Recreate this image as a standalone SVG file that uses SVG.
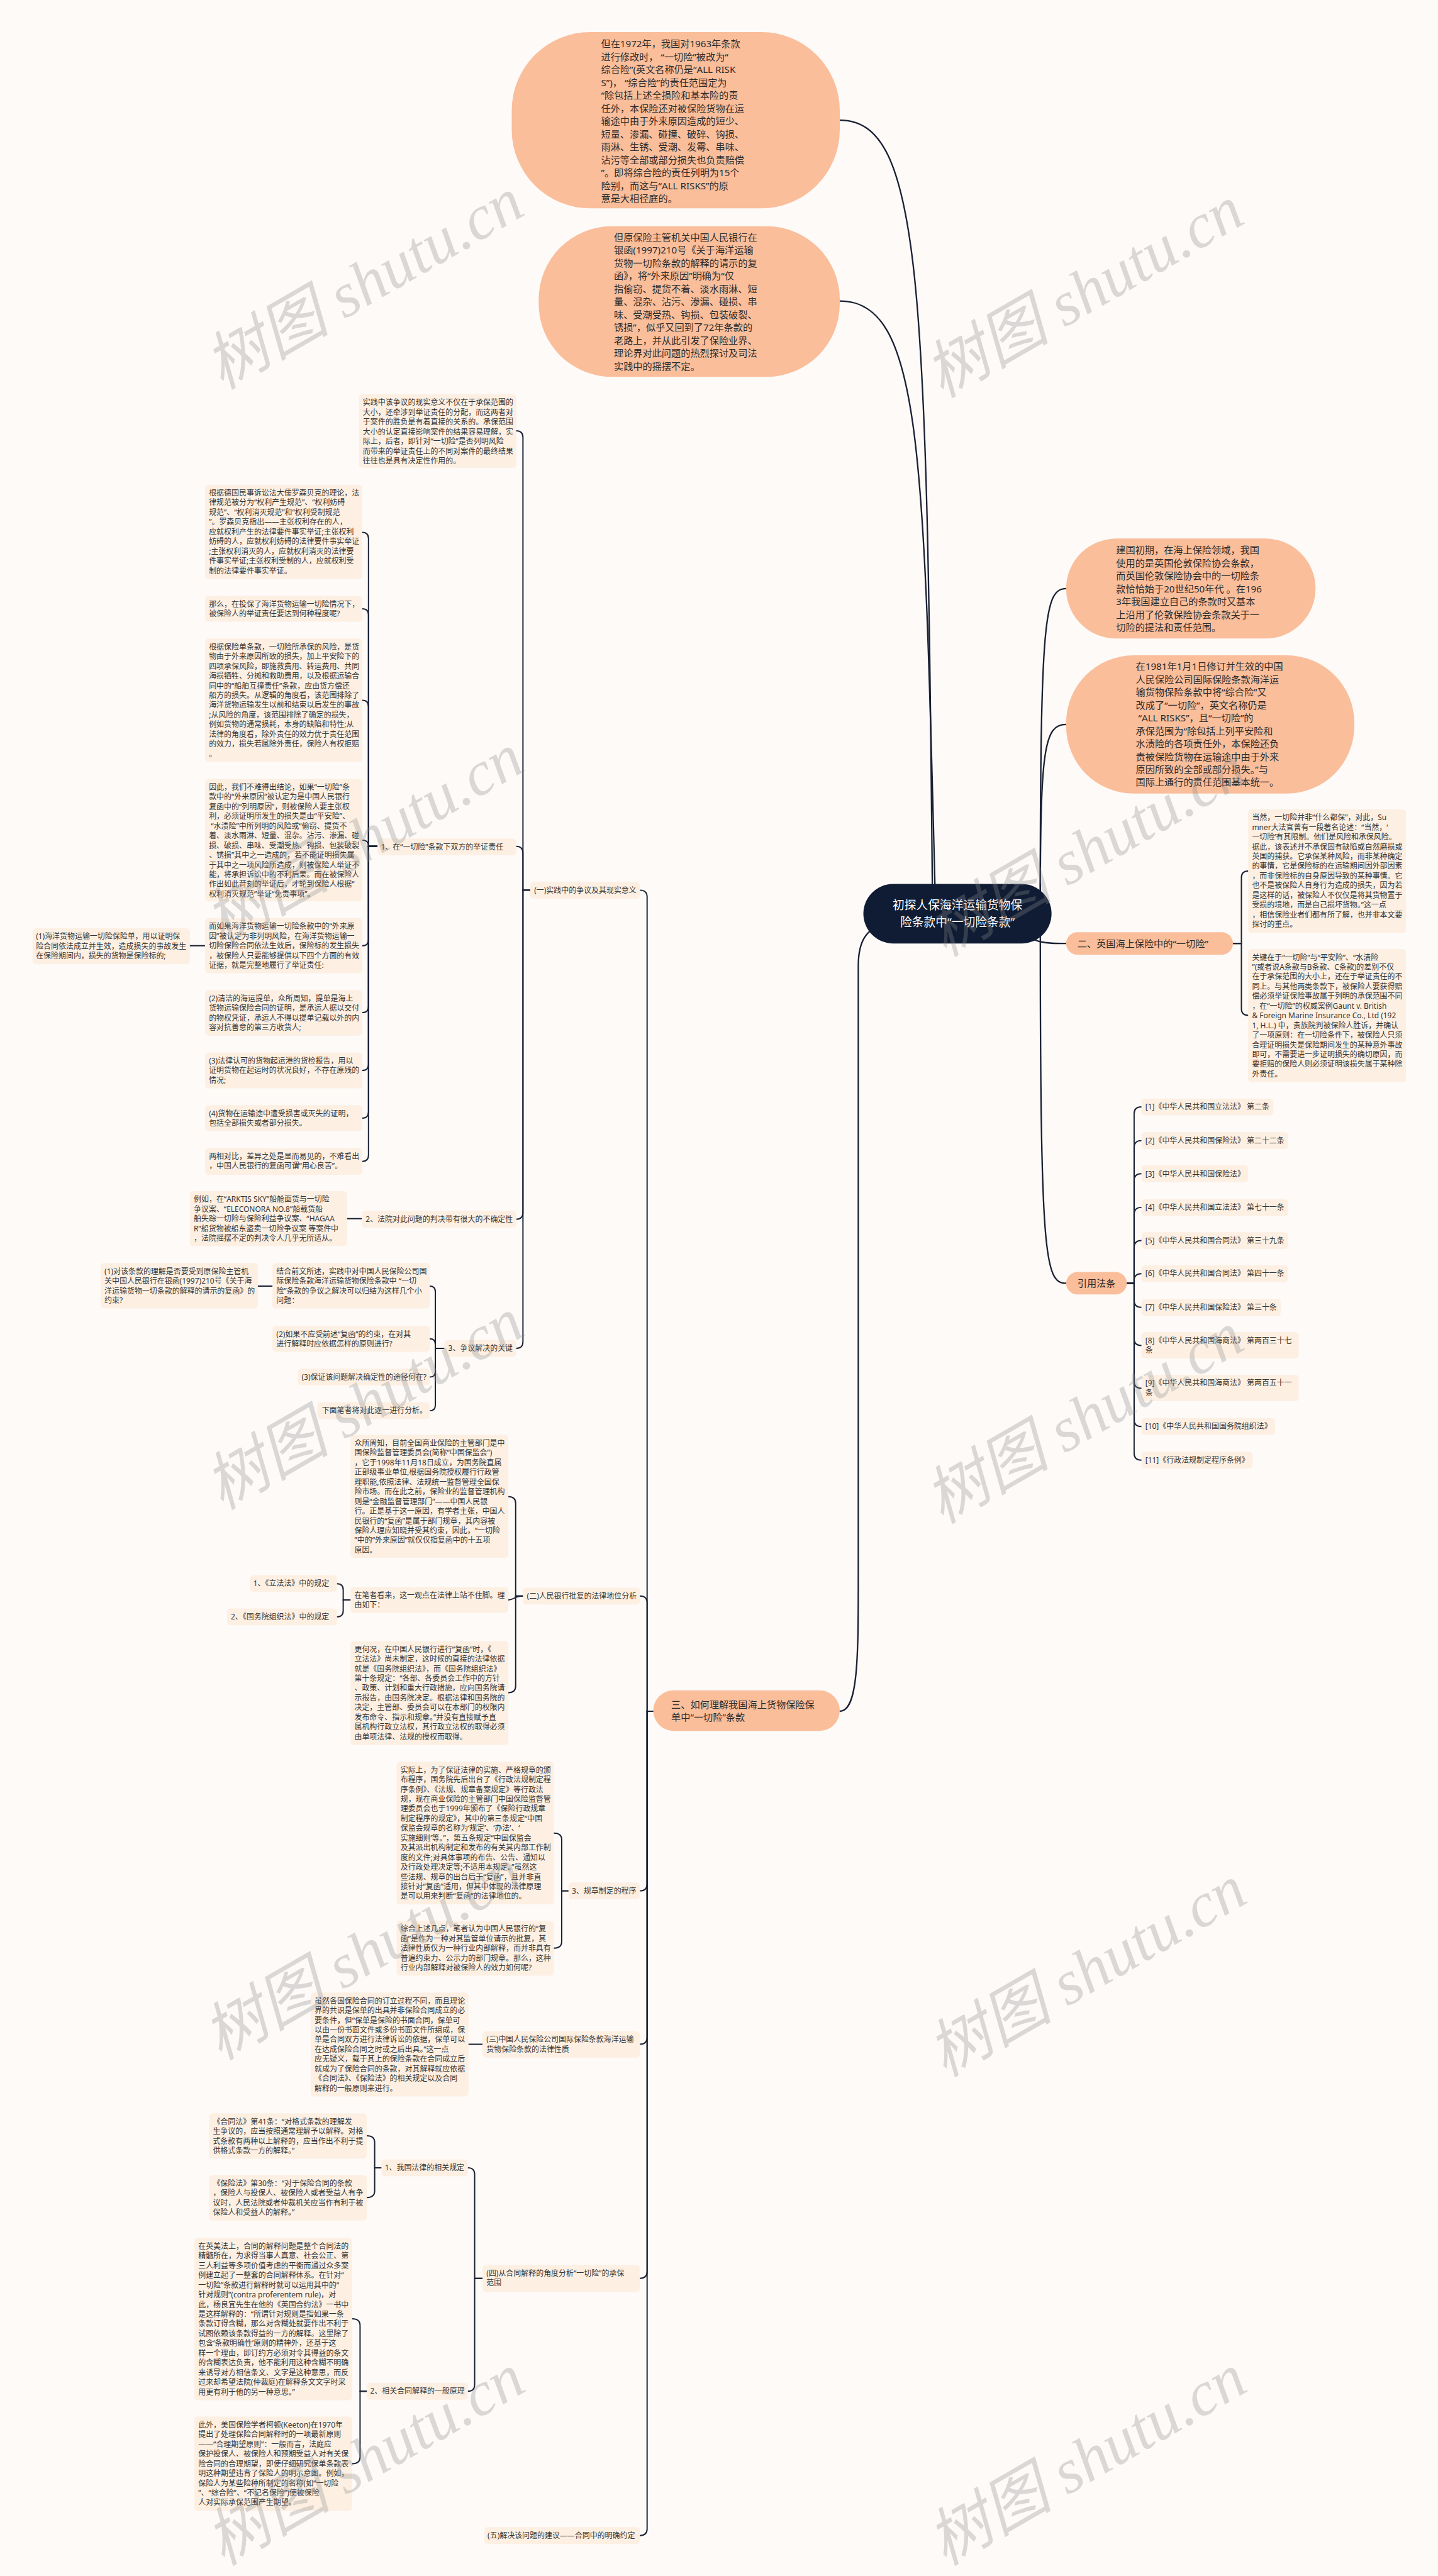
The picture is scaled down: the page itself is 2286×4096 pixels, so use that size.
<svg xmlns="http://www.w3.org/2000/svg" width="2286" height="4096" viewBox="0 0 2286 4096">
<style>
.t{font-family:"Noto Sans","Noto Sans CJK SC",sans-serif;fill:#333}
.s{font-size:13.4px}
.m{font-size:17px;fill:#2b2b2b}
.r{font-size:21px;fill:#ffffff;text-anchor:middle}
.bx{fill:#fdf0e3}
.bg{fill:#fabe9b}
.ln{fill:none;stroke:#1a2133;stroke-width:2.2;stroke-linecap:round}
.lr{stroke-width:2.6}
.wm{font-family:"Liberation Serif","Noto Sans CJK SC",serif;font-style:italic;font-size:112px;fill:#8c8c8c;opacity:.3;text-anchor:middle;dominant-baseline:central}
</style>
<rect x="0" y="0" width="2286" height="4096" fill="#fdfaf8"/>
<g transform="scale(0.89297)">
<g id="connectors">
<path class="ln lr" d="M1495 214 C1640 214 1650 500 1660 1600"/>
<path class="ln lr" d="M1495 536 C1640 536 1645 800 1665 1600"/>
<path class="ln lr" d="M1495 3047 C1528 3047 1528 2950 1528 2800 L1528 1720 C1528 1670 1545 1650 1590 1640"/>
<path class="ln lr" d="M1852 1600 C1852 1100 1860 1048 1898 1048"/>
<path class="ln lr" d="M1852 1600 C1852 1330 1860 1290 1898 1290"/>
<path class="ln lr" d="M1800 1650 C1840 1680 1860 1680 1898 1680"/>
<path class="ln lr" d="M1852 1650 C1852 2240 1860 2285 1898 2285"/>
<path class="ln" d="M1163 3047 H1152 V1597 Q1152 1585 1139 1585"/>
<path class="ln" d="M1163 3047 H1152 V2854 Q1152 2842 1139 2842"/>
<path class="ln" d="M1163 3047 H1152 V3355 Q1152 3367 1139 3367"/>
<path class="ln" d="M1163 3047 H1152 V3628 Q1152 3640 1139 3640"/>
<path class="ln" d="M1163 3047 H1152 V4045 Q1152 4057 1139 4057"/>
<path class="ln" d="M1163 3047 H1152 V4503 Q1152 4515 1139 4515"/>
<path class="ln" d="M944 1585 H931 V779 Q931 767 919 767"/>
<path class="ln" d="M944 1585 H931 V1519 Q931 1507 919 1507"/>
<path class="ln" d="M944 1585 H931 V2159 Q931 2171 919 2171"/>
<path class="ln" d="M944 1585 H931 V2389 Q931 2401 919 2401"/>
<path class="ln" d="M672 1507 H656 V959 Q656 948 645 948"/>
<path class="ln" d="M672 1507 H656 V1095 Q656 1084 645 1084"/>
<path class="ln" d="M672 1507 H656 V1258 Q656 1247 645 1247"/>
<path class="ln" d="M672 1507 H656 Q656 1496 645 1496"/>
<path class="ln" d="M672 1507 H656 V1673 Q656 1684 645 1684"/>
<path class="ln" d="M672 1507 H656 V1792 Q656 1803 645 1803"/>
<path class="ln" d="M672 1507 H656 V1895 Q656 1906 645 1906"/>
<path class="ln" d="M672 1507 H656 V1980 Q656 1991 645 1991"/>
<path class="ln" d="M672 1507 H656 V2057 Q656 2068 645 2068"/>
<path class="ln" d="M338 1684 H365"/>
<path class="ln" d="M618 2170 H644"/>
<path class="ln" d="M459 2290 H485"/>
<path class="ln" d="M791 2401 H775 V2300 Q775 2290 765 2290"/>
<path class="ln" d="M791 2401 H775 V2394 Q775 2384 765 2384"/>
<path class="ln" d="M791 2401 H775 V2442 Q775 2452 765 2452"/>
<path class="ln" d="M791 2401 H775 V2502 Q775 2512 765 2512"/>
<path class="ln" d="M931 2842 H918 V2677 Q918 2665 905 2665"/>
<path class="ln" d="M931 2842 C915 2842 915 2849 905 2849"/>
<path class="ln" d="M931 2842 H918 V3002 Q918 3014 905 3014"/>
<path class="ln" d="M624 2849 H611 V2831 Q611 2820 600 2820"/>
<path class="ln" d="M624 2849 H611 V2868 Q611 2879 600 2879"/>
<path class="ln" d="M1012 3367 H1000 V3276 Q1000 3264 986 3264"/>
<path class="ln" d="M1012 3367 H1000 V3457 Q1000 3469 986 3469"/>
<path class="ln" d="M834 3640 H859"/>
<path class="ln" d="M859 4057 H845 V3872 Q845 3860 833 3860"/>
<path class="ln" d="M859 4057 H845 V4246 Q845 4258 833 4258"/>
<path class="ln" d="M679 3860 H667 V3815 Q667 3803 653 3803"/>
<path class="ln" d="M679 3860 H667 V3901 Q667 3913 653 3913"/>
<path class="ln" d="M653 4258 H641 V4141 Q641 4129 627 4129"/>
<path class="ln" d="M653 4258 H641 V4375 Q641 4387 627 4387"/>
<path class="ln" d="M2195 1680 H2210 V1563 Q2210 1551 2222 1551"/>
<path class="ln" d="M2195 1680 H2210 V1796 Q2210 1808 2222 1808"/>
<path class="ln" d="M2006 2285 H2019 V1983 Q2019 1971 2032 1971"/>
<path class="ln" d="M2006 2285 H2019 V2043 Q2019 2031 2032 2031"/>
<path class="ln" d="M2006 2285 H2019 V2102 Q2019 2090 2032 2090"/>
<path class="ln" d="M2006 2285 H2019 V2162 Q2019 2150 2032 2150"/>
<path class="ln" d="M2006 2285 H2019 V2221 Q2019 2209 2032 2209"/>
<path class="ln" d="M2006 2285 H2019 V2280 Q2019 2268 2032 2268"/>
<path class="ln" d="M2006 2285 H2019 V2316 Q2019 2328 2032 2328"/>
<path class="ln" d="M2006 2285 H2019 V2384 Q2019 2396 2032 2396"/>
<path class="ln" d="M2006 2285 H2019 V2460 Q2019 2472 2032 2472"/>
<path class="ln" d="M2006 2285 H2019 V2528 Q2019 2540 2032 2540"/>
<path class="ln" d="M2006 2285 H2019 V2588 Q2019 2600 2032 2600"/>
</g>

<g id="root">
<rect x="1537" y="1574" width="335" height="106" rx="53" fill="#0f1c33"/>
<text class="t r" x="1704.5" y="1619">初探人保海洋运输货物保</text>
<text class="t r" x="1704.5" y="1649">险条款中“一切险条款”</text>
</g>

<g id="bubble1">
<rect class="bg" x="911" y="57" width="584" height="314" rx="140"/>
<text class="t m" x="1070" y="84.1"><tspan x="1070">但在1972年，我国对1963年条款</tspan><tspan x="1070" dy="22.96">进行修改时，  “一切险”被改为“</tspan><tspan x="1070" dy="22.96">综合险”(英文名称仍是“ALL RISK</tspan><tspan x="1070" dy="22.96">S”)，  “综合险”的责任范围定为</tspan><tspan x="1070" dy="22.96">“除包括上述全损险和基本险的责</tspan><tspan x="1070" dy="22.96">任外，本保险还对被保险货物在运</tspan><tspan x="1070" dy="22.96">输途中由于外来原因造成的短少、</tspan><tspan x="1070" dy="22.96">短量、渗漏、碰撞、破碎、钩损、</tspan><tspan x="1070" dy="22.96">雨淋、生锈、受潮、发霉、串味、</tspan><tspan x="1070" dy="22.96">沾污等全部或部分损失也负责赔偿</tspan><tspan x="1070" dy="22.96">”。即将综合险的责任列明为15个</tspan><tspan x="1070" dy="22.96">险别，而这与“ALL RISKS”的原</tspan><tspan x="1070" dy="22.96">意是大相径庭的。</tspan></text>
</g>

<g id="bubble2">
<rect class="bg" x="959" y="403" width="536" height="268" rx="130"/>
<text class="t m" x="1093" y="428.5"><tspan x="1093">但原保险主管机关中国人民银行在</tspan><tspan x="1093" dy="22.96">银函(1997)210号《关于海洋运输</tspan><tspan x="1093" dy="22.96">货物一切险条款的解释的请示的复</tspan><tspan x="1093" dy="22.96">函》，将“外来原因”明确为“仅</tspan><tspan x="1093" dy="22.96">指偷窃、提货不着、淡水雨淋、短</tspan><tspan x="1093" dy="22.96">量、混杂、沾污、渗漏、碰损、串</tspan><tspan x="1093" dy="22.96">味、受潮受热、钩损、包装破裂、</tspan><tspan x="1093" dy="22.96">锈损”，似乎又回到了72年条款的</tspan><tspan x="1093" dy="22.96">老路上，并从此引发了保险业界、</tspan><tspan x="1093" dy="22.96">理论界对此问题的热烈探讨及司法</tspan><tspan x="1093" dy="22.96">实践中的摇摆不定。</tspan></text>
</g>

<g id="bubble3">
<rect class="bg" x="1898" y="959" width="444" height="178" rx="89"/>
<text class="t m" x="1987" y="986"><tspan x="1987">建国初期，在海上保险领域，我国</tspan><tspan x="1987" dy="22.95">使用的是英国伦敦保险协会条款，</tspan><tspan x="1987" dy="22.95">而英国伦敦保险协会中的一切险条</tspan><tspan x="1987" dy="22.95">款恰恰始于20世纪50年代 。在196</tspan><tspan x="1987" dy="22.95">3年我国建立自己的条款时又基本</tspan><tspan x="1987" dy="22.95">上沿用了伦敦保险协会条款关于一</tspan><tspan x="1987" dy="22.95">切险的提法和责任范围。</tspan></text>
</g>

<g id="bubble4">
<rect class="bg" x="1898" y="1167" width="513" height="246" rx="120"/>
<text class="t m" x="2022" y="1192.7"><tspan x="2022">在1981年1月1日修订并生效的中国</tspan><tspan x="2022" dy="22.95">人民保险公司国际保险条款海洋运</tspan><tspan x="2022" dy="22.95">输货物保险条款中将“综合险”又</tspan><tspan x="2022" dy="22.95">改成了“一切险”，英文名称仍是</tspan><tspan x="2022" dy="22.95"> “ALL RISKS”，且“一切险”的</tspan><tspan x="2022" dy="22.95">承保范围为“除包括上列平安险和</tspan><tspan x="2022" dy="22.95">水渍险的各项责任外，本保险还负</tspan><tspan x="2022" dy="22.95">责被保险货物在运输途中由于外来</tspan><tspan x="2022" dy="22.95">原因所致的全部或部分损失。”与</tspan><tspan x="2022" dy="22.95">国际上通行的责任范围基本统一。</tspan></text>
</g>

<g id="n-er">
<rect class="bg" x="1898" y="1660" width="297" height="40" rx="20"/>
<text class="t m" x="1918" y="1686">二、英国海上保险中的“一切险”</text>
</g>
<g id="n-er-1">
<rect class="bx" x="2222" y="1441" width="281" height="220" rx="6"/>
<text class="t s" x="2229" y="1460.5"><tspan x="2229">当然，一切险并非“什么都保”，对此，Su</tspan><tspan x="2229" dy="17.3">mner大法官曾有一段著名论述：“当然，‘</tspan><tspan x="2229" dy="17.3">一切险’有其限制。他们是风险和承保风险。</tspan><tspan x="2229" dy="17.3">据此，该表述并不承保固有缺陷或自然磨损或</tspan><tspan x="2229" dy="17.3">英国的捕获。它承保某种风险，而非某种确定</tspan><tspan x="2229" dy="17.3">的事情，它是保险标的在运输期间因外部因素</tspan><tspan x="2229" dy="17.3">，而非保险标的自身原因导致的某种事情。它</tspan><tspan x="2229" dy="17.3">也不是被保险人自身行为造成的损失，因为若</tspan><tspan x="2229" dy="17.3">是这样的话，被保险人不仅仅是将其货物置于</tspan><tspan x="2229" dy="17.3">受损的境地，而是自己损坏货物。”这一点</tspan><tspan x="2229" dy="17.3">，相信保险业者们都有所了解，也并非本文要</tspan><tspan x="2229" dy="17.3">探讨的重点。</tspan></text>
</g>
<g id="n-er-2">
<rect class="bx" x="2222" y="1690" width="281" height="237" rx="6"/>
<text class="t s" x="2229" y="1709.5"><tspan x="2229">关键在于“一切险”与“平安险”、“水渍险</tspan><tspan x="2229" dy="17.3">”(或者说A条款与B条款、C条款)的差别不仅</tspan><tspan x="2229" dy="17.3">在于承保范围的大小上，还在于举证责任的不</tspan><tspan x="2229" dy="17.3">同上。与其他两类条款下，被保险人要获得赔</tspan><tspan x="2229" dy="17.3">偿必须举证保险事故属于列明的承保范围不同</tspan><tspan x="2229" dy="17.3">，在“一切险”的权威案例Gaunt v. British</tspan><tspan x="2229" dy="17.3">&amp; Foreign Marine Insurance Co., Ltd (192</tspan><tspan x="2229" dy="17.3">1, H.L.) 中，贵族院判被保险人胜诉，并确认</tspan><tspan x="2229" dy="17.3">了一项原则：在一切险条件下，被保险人只须</tspan><tspan x="2229" dy="17.3">合理证明损失是保险期间发生的某种意外事故</tspan><tspan x="2229" dy="17.3">即可，不需要进一步证明损失的确切原因，而</tspan><tspan x="2229" dy="17.3">要拒赔的保险人则必须证明该损失属于某种除</tspan><tspan x="2229" dy="17.3">外责任。</tspan></text>
</g>

<g id="n-law">
<rect class="bg" x="1898" y="2265" width="108" height="40" rx="20"/>
<text class="t m" x="1952" y="2291" text-anchor="middle">引用法条</text>
</g>
<g id="law-1"><rect class="bx" x="2032" y="1956" width="235" height="30" rx="6"/><text class="t s" x="2039" y="1975.7">[1]《中华人民共和国立法法》 第二条</text></g>
<g id="law-2"><rect class="bx" x="2032" y="2016" width="261" height="30" rx="6"/><text class="t s" x="2039" y="2035.7">[2]《中华人民共和国保险法》 第二十二条</text></g>
<g id="law-3"><rect class="bx" x="2032" y="2075" width="190" height="30" rx="6"/><text class="t s" x="2039" y="2094.7">[3]《中华人民共和国保险法》</text></g>
<g id="law-4"><rect class="bx" x="2032" y="2135" width="261" height="30" rx="6"/><text class="t s" x="2039" y="2154.7">[4]《中华人民共和国立法法》 第七十一条</text></g>
<g id="law-5"><rect class="bx" x="2032" y="2194" width="261" height="30" rx="6"/><text class="t s" x="2039" y="2213.7">[5]《中华人民共和国合同法》 第三十九条</text></g>
<g id="law-6"><rect class="bx" x="2032" y="2253" width="261" height="30" rx="6"/><text class="t s" x="2039" y="2272.7">[6]《中华人民共和国合同法》 第四十一条</text></g>
<g id="law-7"><rect class="bx" x="2032" y="2313" width="248" height="30" rx="6"/><text class="t s" x="2039" y="2332.7">[7]《中华人民共和国保险法》 第三十条</text></g>
<g id="law-8"><rect class="bx" x="2032" y="2372" width="280" height="47" rx="6"/><text class="t s" x="2039" y="2391.5"><tspan x="2039">[8]《中华人民共和国海商法》 第两百三十七</tspan><tspan x="2039" dy="17.3">条</tspan></text></g>
<g id="law-9"><rect class="bx" x="2032" y="2448" width="280" height="47" rx="6"/><text class="t s" x="2039" y="2467.5"><tspan x="2039">[9]《中华人民共和国海商法》 第两百五十一</tspan><tspan x="2039" dy="17.3">条</tspan></text></g>
<g id="law-10"><rect class="bx" x="2032" y="2525" width="238" height="30" rx="6"/><text class="t s" x="2039" y="2544.7">[10]《中华人民共和国国务院组织法》</text></g>
<g id="law-11"><rect class="bx" x="2032" y="2585" width="198" height="30" rx="6"/><text class="t s" x="2039" y="2604.7">[11]《行政法规制定程序条例》</text></g>

<g id="n-san">
<rect class="bg" x="1163" y="3010" width="332" height="72" rx="36"/>
<text class="t m" x="1195" y="3041"><tspan x="1195">三、如何理解我国海上货物保险保</tspan><tspan x="1195" dy="23">单中“一切险”条款</tspan></text>
</g>

<g id="n-1">
<rect class="bx" x="944" y="1570" width="195" height="30" rx="6"/>
<text class="t s" x="951" y="1589.7">(一)实践中的争议及其现实意义</text>
</g>
<g id="n-1-a">
<rect class="bx" x="639" y="702" width="280" height="131" rx="6"/>
<text class="t s" x="646" y="721.5"><tspan x="646">实践中该争议的现实意义不仅在于承保范围的</tspan><tspan x="646" dy="17.3">大小，还牵涉到举证责任的分配，而这两者对</tspan><tspan x="646" dy="17.3">于案件的胜负是有着直接的关系的。承保范围</tspan><tspan x="646" dy="17.3">大小的认定直接影响案件的结果容易理解，实</tspan><tspan x="646" dy="17.3">际上，后者，即针对“一切险”是否列明风险</tspan><tspan x="646" dy="17.3">而带来的举证责任上的不同对案件的最终结果</tspan><tspan x="646" dy="17.3">往往也是具有决定性作用的。</tspan></text>
</g>
<g id="n-1-1">
<rect class="bx" x="672" y="1493" width="247" height="30" rx="6"/>
<text class="t s" x="678" y="1512.7">1、在“一切险”条款下双方的举证责任</text>
</g>
<g id="n-1-1-a">
<rect class="bx" x="365" y="863" width="280" height="168" rx="6"/>
<text class="t s" x="372" y="882.5"><tspan x="372">根据德国民事诉讼法大儒罗森贝克的理论，法</tspan><tspan x="372" dy="17.3">律规范被分为“权利产生规范”、“权利妨碍</tspan><tspan x="372" dy="17.3">规范”、“权利消灭规范”和“权利受制规范</tspan><tspan x="372" dy="17.3">”。罗森贝克指出——主张权利存在的人，</tspan><tspan x="372" dy="17.3">应就权利产生的法律要件事实举证;主张权利</tspan><tspan x="372" dy="17.3">妨碍的人，应就权利妨碍的法律要件事实举证</tspan><tspan x="372" dy="17.3">;主张权利消灭的人，应就权利消灭的法律要</tspan><tspan x="372" dy="17.3">件事实举证;主张权利受制的人，应就权利受</tspan><tspan x="372" dy="17.3">制的法律要件事实举证。</tspan></text>
</g>
<g id="n-1-1-b">
<rect class="bx" x="365" y="1061" width="280" height="46" rx="6"/>
<text class="t s" x="372" y="1080.5"><tspan x="372">那么，在投保了海洋货物运输一切险情况下，</tspan><tspan x="372" dy="17.3">被保险人的举证责任要达到何种程度呢?</tspan></text>
</g>
<g id="n-1-1-c">
<rect class="bx" x="365" y="1137" width="280" height="220" rx="6"/>
<text class="t s" x="372" y="1156.5"><tspan x="372">根据保险单条款，一切险所承保的风险，是货</tspan><tspan x="372" dy="17.3">物由于外来原因所致的损失，加上平安险下的</tspan><tspan x="372" dy="17.3">四项承保风险，即施救费用、转运费用、共同</tspan><tspan x="372" dy="17.3">海损牺牲、分摊和救助费用，以及根据运输合</tspan><tspan x="372" dy="17.3">同中的“船舶互撞责任”条款，应由货方偿还</tspan><tspan x="372" dy="17.3">船方的损失。从逻辑的角度看，该范围排除了</tspan><tspan x="372" dy="17.3">海洋货物运输发生以前和结束以后发生的事故</tspan><tspan x="372" dy="17.3">;从风险的角度，该范围排除了确定的损失，</tspan><tspan x="372" dy="17.3">例如货物的通常损耗，本身的缺陷和特性;从</tspan><tspan x="372" dy="17.3">法律的角度看，除外责任的效力优于责任范围</tspan><tspan x="372" dy="17.3">的效力，损失若属除外责任，保险人有权拒赔</tspan><tspan x="372" dy="17.3">。</tspan></text>
</g>
<g id="n-1-1-d">
<rect class="bx" x="365" y="1387" width="280" height="218" rx="6"/>
<text class="t s" x="372" y="1406.5"><tspan x="372">因此，我们不难得出结论，如果“一切险”条</tspan><tspan x="372" dy="17.3">款中的“外来原因”被认定为是中国人民银行</tspan><tspan x="372" dy="17.3">复函中的“列明原因”，则被保险人要主张权</tspan><tspan x="372" dy="17.3">利，必须证明所发生的损失是由“平安险”、</tspan><tspan x="372" dy="17.3"> “水渍险”中所列明的风险或“偷窃、提货不</tspan><tspan x="372" dy="17.3">着、淡水雨淋、短量、混杂。沾污、渗漏、碰</tspan><tspan x="372" dy="17.3">损、破损、串味、受潮受热、钩损、包装破裂</tspan><tspan x="372" dy="17.3">、锈损”其中之一造成的，若不能证明损失属</tspan><tspan x="372" dy="17.3">于其中之一项风险所造成，则被保险人举证不</tspan><tspan x="372" dy="17.3">能，将承担诉讼中的不利后果。而在被保险人</tspan><tspan x="372" dy="17.3">作出如此苛刻的举证后，才轮到保险人根据“</tspan><tspan x="372" dy="17.3">权利消灭规范”举证“免责事项”。</tspan></text>
</g>
<g id="n-1-1-e">
<rect class="bx" x="365" y="1635" width="280" height="98" rx="6"/>
<text class="t s" x="372" y="1654.5"><tspan x="372">而如果海洋货物运输一切险条款中的“外来原</tspan><tspan x="372" dy="17.3">因”被认定为非列明风险，在海洋货物运输一</tspan><tspan x="372" dy="17.3">切险保险合同依法生效后，保险标的发生损失</tspan><tspan x="372" dy="17.3">，被保险人只要能够提供以下四个方面的有效</tspan><tspan x="372" dy="17.3">证据，就是完整地履行了举证责任:</tspan></text>
</g>
<g id="n-1-1-e-1">
<rect class="bx" x="58" y="1653" width="280" height="64" rx="6"/>
<text class="t s" x="64" y="1672.5"><tspan x="64">(1)海洋货物运输一切险保险单，用以证明保</tspan><tspan x="64" dy="17.3">险合同依法成立并生效，造成损失的事故发生</tspan><tspan x="64" dy="17.3">在保险期间内，损失的货物是保险标的;</tspan></text>
</g>
<g id="n-1-1-f">
<rect class="bx" x="365" y="1763" width="280" height="81" rx="6"/>
<text class="t s" x="372" y="1782.5"><tspan x="372">(2)清洁的海运提单，众所周知，提单是海上</tspan><tspan x="372" dy="17.3">货物运输保险合同的证明，是承运人据以交付</tspan><tspan x="372" dy="17.3">的物权凭证，承运人不得以提单记载以外的内</tspan><tspan x="372" dy="17.3">容对抗善意的第三方收货人;</tspan></text>
</g>
<g id="n-1-1-g">
<rect class="bx" x="365" y="1874" width="280" height="64" rx="6"/>
<text class="t s" x="372" y="1893.5"><tspan x="372">(3)法律认可的货物起运港的货检报告，用以</tspan><tspan x="372" dy="17.3">证明货物在起运时的状况良好，不存在原残的</tspan><tspan x="372" dy="17.3">情况;</tspan></text>
</g>
<g id="n-1-1-h">
<rect class="bx" x="365" y="1968" width="280" height="46" rx="6"/>
<text class="t s" x="372" y="1987.5"><tspan x="372">(4)货物在运输途中遭受损害或灭失的证明，</tspan><tspan x="372" dy="17.3">包括全部损失或者部分损失。</tspan></text>
</g>
<g id="n-1-1-i">
<rect class="bx" x="365" y="2044" width="280" height="48" rx="6"/>
<text class="t s" x="372" y="2063.5"><tspan x="372">两相对比，差异之处是显而易见的，不难看出</tspan><tspan x="372" dy="17.3">，中国人民银行的复函可谓“用心良苦”。</tspan></text>
</g>
<g id="n-1-2">
<rect class="bx" x="644" y="2156" width="275" height="30" rx="6"/>
<text class="t s" x="651" y="2175.7">2、法院对此问题的判决带有很大的不确定性</text>
</g>
<g id="n-1-2-a">
<rect class="bx" x="338" y="2121" width="280" height="98" rx="6"/>
<text class="t s" x="345" y="2140.5"><tspan x="345">例如，在“ARKTIS SKY”船舱面货与一切险</tspan><tspan x="345" dy="17.3">争议案、“ELECONORA NO.8”船载货船</tspan><tspan x="345" dy="17.3">舶失踪一切险与保险利益争议案、“HAGAA</tspan><tspan x="345" dy="17.3">R”船货物被船东盗卖一切险争议案 等案件中</tspan><tspan x="345" dy="17.3">，法院摇摆不定的判决令人几乎无所适从。</tspan></text>
</g>
<g id="n-1-3">
<rect class="bx" x="791" y="2386" width="128" height="30" rx="6"/>
<text class="t s" x="798" y="2405.7">3、争议解决的关键</text>
</g>
<g id="n-1-3-a">
<rect class="bx" x="485" y="2249" width="280" height="81" rx="6"/>
<text class="t s" x="492" y="2268.5"><tspan x="492">结合前文所述，实践中对中国人民保险公司国</tspan><tspan x="492" dy="17.3">际保险条款海洋运输货物保险条款中 “一切</tspan><tspan x="492" dy="17.3">险”条款的争议之解决可以归结为这样几个小</tspan><tspan x="492" dy="17.3">问题：</tspan></text>
</g>
<g id="n-1-3-a-1">
<rect class="bx" x="179" y="2249" width="280" height="81" rx="6"/>
<text class="t s" x="186" y="2268.5"><tspan x="186">(1)对该条款的理解是否要受到原保险主管机</tspan><tspan x="186" dy="17.3">关中国人民银行在银函(1997)210号《关于海</tspan><tspan x="186" dy="17.3">洋运输货物一切条款的解释的请示的复函》的</tspan><tspan x="186" dy="17.3">约束?</tspan></text>
</g>
<g id="n-1-3-b">
<rect class="bx" x="485" y="2361" width="280" height="46" rx="6"/>
<text class="t s" x="492" y="2380.5"><tspan x="492">(2)如果不应受前述“复函”的约束，在对其</tspan><tspan x="492" dy="17.3">进行解释时应依据怎样的原则进行?</tspan></text>
</g>
<g id="n-1-3-c">
<rect class="bx" x="530" y="2437" width="235" height="30" rx="6"/>
<text class="t s" x="537" y="2456.7">(3)保证该问题解决确定性的途径何在?</text>
</g>
<g id="n-1-3-d">
<rect class="bx" x="565" y="2497" width="200" height="30" rx="6"/>
<text class="t s" x="573" y="2516.7">下面笔者将对此逐一进行分析。</text>
</g>

<g id="n-2">
<rect class="bx" x="931" y="2827" width="208" height="30" rx="6"/>
<text class="t s" x="938" y="2846.7">(二)人民银行批复的法律地位分析</text>
</g>
<g id="n-2-a">
<rect class="bx" x="624" y="2555" width="281" height="219" rx="6"/>
<text class="t s" x="631" y="2574.5"><tspan x="631">众所周知，目前全国商业保险的主管部门是中</tspan><tspan x="631" dy="17.3">国保险监督管理委员会(简称“中国保监会”)</tspan><tspan x="631" dy="17.3">，它于1998年11月18日成立，为国务院直属</tspan><tspan x="631" dy="17.3">正部级事业单位,根据国务院授权履行行政管</tspan><tspan x="631" dy="17.3">理职能,依照法律、法规统一监督管理全国保</tspan><tspan x="631" dy="17.3">险市场。而在此之前，保险业的监督管理机构</tspan><tspan x="631" dy="17.3">则是“金融监督管理部门”——中国人民银</tspan><tspan x="631" dy="17.3">行。正是基于这一原因，有学者主张，中国人</tspan><tspan x="631" dy="17.3">民银行的“复函”是属于部门规章，其内容被</tspan><tspan x="631" dy="17.3">保险人理应知晓并受其约束，因此，“一切险</tspan><tspan x="631" dy="17.3">”中的“外来原因”就仅仅指复函中的十五项</tspan><tspan x="631" dy="17.3">原因。</tspan></text>
</g>
<g id="n-2-b">
<rect class="bx" x="624" y="2826" width="281" height="46" rx="6"/>
<text class="t s" x="631" y="2845.5"><tspan x="631">在笔者看来，这一观点在法律上站不住脚。理</tspan><tspan x="631" dy="17.3">由如下：</tspan></text>
</g>
<g id="n-2-b-1">
<rect class="bx" x="445" y="2805" width="155" height="30" rx="6"/>
<text class="t s" x="451" y="2824.7">1、《立法法》中的规定</text>
</g>
<g id="n-2-b-2">
<rect class="bx" x="404" y="2864" width="196" height="30" rx="6"/>
<text class="t s" x="411" y="2883.7">2、《国务院组织法》中的规定</text>
</g>
<g id="n-2-c">
<rect class="bx" x="624" y="2922" width="281" height="185" rx="6"/>
<text class="t s" x="631" y="2941.5"><tspan x="631">更何况，在中国人民银行进行“复函”时，《</tspan><tspan x="631" dy="17.3">立法法》尚未制定，这时候的直接的法律依据</tspan><tspan x="631" dy="17.3">就是《国务院组织法》，而《国务院组织法》</tspan><tspan x="631" dy="17.3">第十条规定：“各部、各委员会工作中的方针</tspan><tspan x="631" dy="17.3">、政策、计划和重大行政措施，应向国务院请</tspan><tspan x="631" dy="17.3">示报告，由国务院决定。根据法律和国务院的</tspan><tspan x="631" dy="17.3">决定，主管部、委员会可以在本部门的权限内</tspan><tspan x="631" dy="17.3">发布命令、指示和规章。”并没有直接赋予直</tspan><tspan x="631" dy="17.3">属机构行政立法权，其行政立法权的取得必须</tspan><tspan x="631" dy="17.3">由单项法律、法规的授权而取得。</tspan></text>
</g>

<g id="n-rule">
<rect class="bx" x="1012" y="3352" width="127" height="30" rx="6"/>
<text class="t s" x="1018" y="3371.7">3、规章制定的程序</text>
</g>
<g id="n-rule-a">
<rect class="bx" x="706" y="3137" width="280" height="254" rx="6"/>
<text class="t s" x="713" y="3156.5"><tspan x="713">实际上，为了保证法律的实施、严格规章的颁</tspan><tspan x="713" dy="17.3">布程序，国务院先后出台了《行政法规制定程</tspan><tspan x="713" dy="17.3">序条例》、《法规、规章备案规定》等行政法</tspan><tspan x="713" dy="17.3">规，现在商业保险的主管部门中国保险监督管</tspan><tspan x="713" dy="17.3">理委员会也于1999年颁布了《保险行政规章</tspan><tspan x="713" dy="17.3">制定程序的规定》，其中的第三条规定“中国</tspan><tspan x="713" dy="17.3">保监会规章的名称为‘规定’、‘办法’、‘</tspan><tspan x="713" dy="17.3">实施细则’等。”，第五条规定“中国保监会</tspan><tspan x="713" dy="17.3">及其派出机构制定和发布的有关其内部工作制</tspan><tspan x="713" dy="17.3">度的文件;对具体事项的布告、公告、通知以</tspan><tspan x="713" dy="17.3">及行政处理决定等;不适用本规定。”虽然这</tspan><tspan x="713" dy="17.3">些法规、规章的出台后于“复函”，且并非直</tspan><tspan x="713" dy="17.3">接针对“复函”适用，但其中体现的法律原理</tspan><tspan x="713" dy="17.3">是可以用来判断“复函”的法律地位的。</tspan></text>
</g>
<g id="n-rule-b">
<rect class="bx" x="706" y="3420" width="280" height="98" rx="6"/>
<text class="t s" x="713" y="3439.5"><tspan x="713">综合上述几点，笔者认为中国人民银行的“复</tspan><tspan x="713" dy="17.3">函”是作为一种对其监管单位请示的批复，其</tspan><tspan x="713" dy="17.3">法律性质仅为一种行业内部解释，而并非具有</tspan><tspan x="713" dy="17.3">普遍约束力、公示力的部门规章。那么，这种</tspan><tspan x="713" dy="17.3">行业内部解释对被保险人的效力如何呢?</tspan></text>
</g>

<g id="n-3">
<rect class="bx" x="859" y="3617" width="280" height="47" rx="6"/>
<text class="t s" x="866" y="3636.5"><tspan x="866">(三)中国人民保险公司国际保险条款海洋运输</tspan><tspan x="866" dy="17.3">货物保险条款的法律性质</tspan></text>
</g>
<g id="n-3-a">
<rect class="bx" x="553" y="3548" width="281" height="185" rx="6"/>
<text class="t s" x="560" y="3567.5"><tspan x="560">虽然各国保险合同的订立过程不同，而且理论</tspan><tspan x="560" dy="17.3">界的共识是保单的出具并非保险合同成立的必</tspan><tspan x="560" dy="17.3">要条件，但“保单是保险的书面合同，保单可</tspan><tspan x="560" dy="17.3">以由一份书面文件或多份书面文件所组成，保</tspan><tspan x="560" dy="17.3">单是合同双方进行法律诉讼的依据，保单可以</tspan><tspan x="560" dy="17.3">在达成保险合同之时或之后出具。”这一点</tspan><tspan x="560" dy="17.3">应无疑义，载于其上的保险条款在合同成立后</tspan><tspan x="560" dy="17.3">就成为了保险合同的条款，对其解释就应依据</tspan><tspan x="560" dy="17.3">《合同法》、《保险法》的相关规定以及合同</tspan><tspan x="560" dy="17.3">解释的一般原则来进行。</tspan></text>
</g>

<g id="n-4">
<rect class="bx" x="859" y="4033" width="280" height="48" rx="6"/>
<text class="t s" x="866" y="4052.5"><tspan x="866">(四)从合同解释的角度分析“一切险”的承保</tspan><tspan x="866" dy="17.3">范围</tspan></text>
</g>
<g id="n-4-1">
<rect class="bx" x="679" y="3845" width="154" height="30" rx="6"/>
<text class="t s" x="685" y="3864.7">1、我国法律的相关规定</text>
</g>
<g id="n-4-1-a">
<rect class="bx" x="372" y="3763" width="281" height="81" rx="6"/>
<text class="t s" x="379" y="3782.5"><tspan x="379">《合同法》第41条：“对格式条款的理解发</tspan><tspan x="379" dy="17.3">生争议的，应当按照通常理解予以解释。对格</tspan><tspan x="379" dy="17.3">式条款有两种以上解释的，应当作出不利于提</tspan><tspan x="379" dy="17.3">供格式条款一方的解释。”</tspan></text>
</g>
<g id="n-4-1-b">
<rect class="bx" x="372" y="3873" width="281" height="81" rx="6"/>
<text class="t s" x="379" y="3892.5"><tspan x="379">《保险法》第30条：“对于保险合同的条款</tspan><tspan x="379" dy="17.3">，保险人与投保人、被保险人或者受益人有争</tspan><tspan x="379" dy="17.3">议时，人民法院或者仲裁机关应当作有利于被</tspan><tspan x="379" dy="17.3">保险人和受益人的解释。”</tspan></text>
</g>
<g id="n-4-2">
<rect class="bx" x="653" y="4243" width="180" height="30" rx="6"/>
<text class="t s" x="659" y="4262.7">2、相关合同解释的一般原理</text>
</g>
<g id="n-4-2-a">
<rect class="bx" x="346" y="3985" width="281" height="289" rx="6"/>
<text class="t s" x="353" y="4004.5"><tspan x="353">在英美法上，合同的解释问题是整个合同法的</tspan><tspan x="353" dy="17.3">精髓所在，为求得当事人真意、社会公正、第</tspan><tspan x="353" dy="17.3">三人利益等多项价值考虑的平衡而通过众多案</tspan><tspan x="353" dy="17.3">例建立起了一整套的合同解释体系。在针对“</tspan><tspan x="353" dy="17.3">一切险”条款进行解释时就可以运用其中的“</tspan><tspan x="353" dy="17.3">针对规则”(contra proferentem rule)，对</tspan><tspan x="353" dy="17.3">此，杨良宜先生在他的《英国合约法》一书中</tspan><tspan x="353" dy="17.3">是这样解释的：“所谓针对规则是指如果一条</tspan><tspan x="353" dy="17.3">条款订得含糊，那么对含糊处就要作出不利于</tspan><tspan x="353" dy="17.3">试图依赖该条款得益的一方的解释。这里除了</tspan><tspan x="353" dy="17.3">包含‘条款明确性’原则的精神外，还基于这</tspan><tspan x="353" dy="17.3">样一个理由，即订约方必须对令其得益的条文</tspan><tspan x="353" dy="17.3">的含糊表达负责，他不能利用这种含糊不明确</tspan><tspan x="353" dy="17.3">来诱导对方相信条文、文字是这种意思，而反</tspan><tspan x="353" dy="17.3">过来却希望法院(仲裁庭)在解释条文文字时采</tspan><tspan x="353" dy="17.3">用更有利于他的另一种意思。”</tspan></text>
</g>
<g id="n-4-2-b">
<rect class="bx" x="346" y="4303" width="281" height="168" rx="6"/>
<text class="t s" x="353" y="4322.5"><tspan x="353">此外，美国保险学者柯顿(Keeton)在1970年</tspan><tspan x="353" dy="17.3">提出了处理保险合同解释时的一项最新原则</tspan><tspan x="353" dy="17.3">——“合理期望原则”：一般而言，法庭应</tspan><tspan x="353" dy="17.3">保护投保人、被保险人和预期受益人对有关保</tspan><tspan x="353" dy="17.3">险合同的合理期望，即使仔细研究保单条款表</tspan><tspan x="353" dy="17.3">明这种期望违背了保险人的明示意图。例如，</tspan><tspan x="353" dy="17.3">保险人为某些险种所制定的名称(如“一切险</tspan><tspan x="353" dy="17.3">”、“综合险”、“不记名保险”)使被保险</tspan><tspan x="353" dy="17.3">人对实际承保范围产生期望。</tspan></text>
</g>

<g id="n-5">
<rect class="bx" x="862" y="4500" width="277" height="30" rx="6"/>
<text class="t s" x="868" y="4519.7">(五)解决该问题的建议——合同中的明确约定</text>
</g>

<g id="watermarks">
<text class="wm" transform="translate(648 505) rotate(-30)">树图 shutu.cn</text>
<text class="wm" transform="translate(648 1495) rotate(-30)">树图 shutu.cn</text>
<text class="wm" transform="translate(648 2500) rotate(-30)">树图 shutu.cn</text>
<text class="wm" transform="translate(645 3480) rotate(-30)">树图 shutu.cn</text>
<text class="wm" transform="translate(650 4380) rotate(-30)">树图 shutu.cn</text>
<text class="wm" transform="translate(1930 520) rotate(-30)">树图 shutu.cn</text>
<text class="wm" transform="translate(1935 1515) rotate(-30)">树图 shutu.cn</text>
<text class="wm" transform="translate(1930 2525) rotate(-30)">树图 shutu.cn</text>
<text class="wm" transform="translate(1935 3510) rotate(-30)">树图 shutu.cn</text>
<text class="wm" transform="translate(1935 4380) rotate(-30)">树图 shutu.cn</text>
</g>
</g>
</svg>
